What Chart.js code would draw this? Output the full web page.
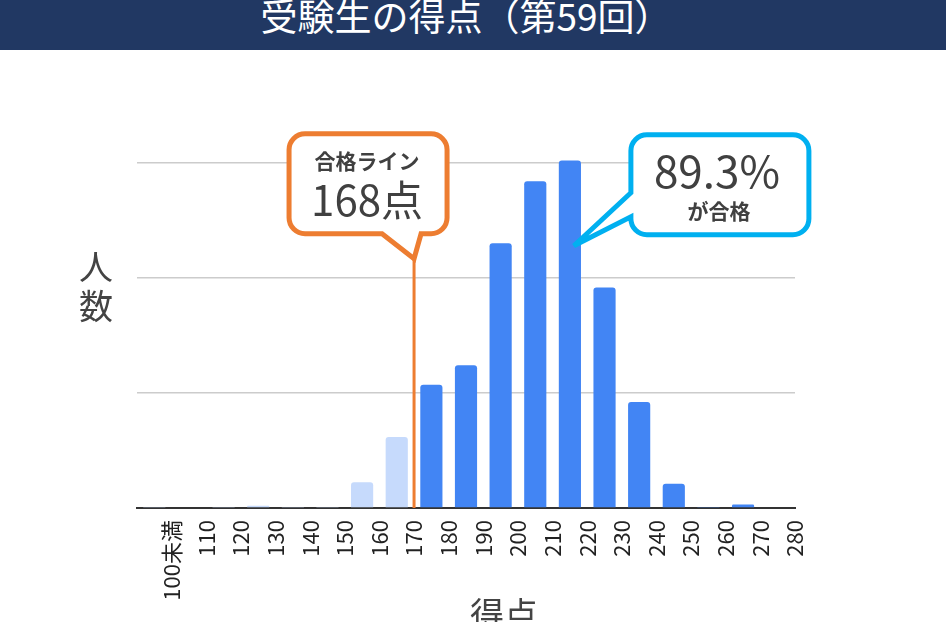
<!DOCTYPE html>
<html lang="ja">
<head>
<meta charset="utf-8">
<title>受験生の得点（第59回）</title>
<script src="https://cdn.jsdelivr.net/npm/chart.js@4.4.0/dist/chart.umd.min.js"></script>
<style>
  html, body { margin: 0; padding: 0; background: #fff; overflow: hidden; }
  body { width: 946px; height: 622px; position: relative; font-family: "Noto Sans CJK JP", "Noto Sans", sans-serif; }
  #header {
    position: absolute; left: 0; top: 0; width: 946px; height: 50px;
    background: #213863; color: #fff; font-size: 37px; line-height: 30px;
    text-align: center; padding-right: 14px; box-sizing: border-box;
  }
  #wrap { position: absolute; left: 0; top: 50px; width: 946px; height: 572px; }
</style>
</head>
<body>
<div id="header">受験生の得点（第59回）</div>
<div id="wrap"><canvas id="scoreChart"></canvas></div>
<script>
// ---- DATA ----
// tick labels sit on the bin edges, one bar per bin
const tickLabels = ['100未満', '110', '120', '130', '140', '150', '160', '170', '180', '190',
                    '200', '210', '220', '230', '240', '250', '260', '270', '280'];
// number of examinees per bin (y ticks are hidden)
const counts = [0.9, 0, 0.9, 2, 0.9, 0.9, 22.4, 61.6, 107, 124,
                230, 284, 302, 191.5, 92, 21, 0.9, 3, 0];
// horizontal grid lines (values, no labels shown)
const yGridValues = [0, 100, 200, 300];
const yMax = 305;

const passLineLabel = '170';      // the pass line is drawn on this tick
const passTitle = '合格ライン';
const passScoreText = '168点';
const passRateText = '89.3%';
const passRateSub = 'が合格';
const yTitleChars = ['人', '数'];
const xTitle = '得点';

const FONT = '"Noto Sans CJK JP", "Noto Sans", sans-serif';
const ORANGE = '#ED7D31';
const CYAN = '#00B0F0';

const passPos = tickLabels.indexOf(passLineLabel) + 1;
const barData = counts.map((v, i) => ({ x: i + 0.5, y: v }));
const barColors = barData.map(d => d.x > passPos ? '#4285F4' : '#C6DAFC');

// rounded box with a pointed tail, tail on the bottom or on the left edge
function drawCallout(ctx, box, tail, color) {
    const { l, t, r, b } = box;
    const rad = 16;
    ctx.save();
    ctx.beginPath();
    ctx.moveTo(l + rad, t);
    ctx.lineTo(r - rad, t);
    ctx.arcTo(r, t, r, t + rad, rad);
    ctx.lineTo(r, b - rad);
    ctx.arcTo(r, b, r - rad, b, rad);
    if (tail.edge === 'bottom') {
        ctx.lineTo(tail.b, b);
        ctx.lineTo(tail.tipX, tail.tipY);
        ctx.lineTo(tail.a, b);
    }
    ctx.lineTo(l + rad, b);
    ctx.arcTo(l, b, l, b - rad, rad);
    if (tail.edge === 'left') {
        ctx.lineTo(l, tail.b);
        ctx.lineTo(tail.tipX, tail.tipY);
        ctx.lineTo(l, tail.a);
    }
    ctx.lineTo(l, t + rad);
    ctx.arcTo(l, t, l + rad, t, rad);
    ctx.closePath();
    ctx.fillStyle = '#fff';
    ctx.fill();
    ctx.lineWidth = 5;
    ctx.lineJoin = 'miter';
    ctx.miterLimit = 4;
    ctx.strokeStyle = color;
    ctx.stroke();
    ctx.restore();
}

function text(ctx, str, x, y, size, weight, color) {
    ctx.save();
    ctx.font = weight + ' ' + size + 'px ' + FONT;
    ctx.fillStyle = color;
    ctx.textAlign = 'center';
    ctx.textBaseline = 'middle';
    ctx.fillText(str, x, y);
    ctx.restore();
}

const annotations = {
    id: 'annotations',
    afterDraw(chart) {
        const ctx = chart.ctx;
        const xs = chart.scales.x, ys = chart.scales.y;
        const area = chart.chartArea;
        const gridTop = ys.getPixelForValue(yGridValues[yGridValues.length - 1]);

        // pass line
        const passX = xs.getPixelForValue(passPos);
        ctx.save();
        ctx.strokeStyle = ORANGE;
        ctx.lineWidth = 3;
        ctx.beginPath();
        ctx.moveTo(passX, gridTop + 96);
        ctx.lineTo(passX, area.bottom);
        ctx.stroke();
        ctx.restore();

        // orange callout
        drawCallout(ctx, { l: passX - 125, t: gridTop - 29, r: passX + 33, b: gridTop + 71 },
            { edge: 'bottom', a: passX - 32, b: passX + 7, tipX: passX, tipY: gridTop + 96 }, ORANGE);
        text(ctx, passTitle, passX - 47, gridTop - 2, 21, 'bold', '#404040');
        text(ctx, passScoreText, passX - 47, gridTop + 37, 42, 'normal', '#404040');

        // cyan callout pointing at the tallest bar
        const peakIdx = counts.indexOf(Math.max(...counts));
        const peakX = xs.getPixelForValue(barData[peakIdx].x);
        drawCallout(ctx, { l: peakX + 61, t: gridTop - 28, r: peakX + 239, b: gridTop + 72 },
            { edge: 'left', a: gridTop + 30, b: gridTop + 54, tipX: peakX + 4, tipY: gridTop + 83 }, CYAN);
        text(ctx, passRateText, peakX + 147, gridTop + 9, 44, 'normal', '#404040');
        text(ctx, passRateSub, peakX + 149, gridTop + 48, 21, 'bold', '#404040');

        // axis titles
        yTitleChars.forEach((c, i) => {
            text(ctx, c, area.left - 41, gridTop + 104 + i * 39, 34, 'normal', '#444');
        });
        text(ctx, xTitle, (area.left + area.right) / 2 + 38, area.bottom + 106, 34, 'normal', '#444');
    }
};

const ctx = document.getElementById('scoreChart').getContext('2d');
new Chart(ctx, {
    type: 'bar',
    data: {
        datasets: [{
            data: barData,
            backgroundColor: barColors,
            borderRadius: 3,
            borderSkipped: 'bottom',
            categoryPercentage: 0.8,
            barPercentage: 0.8
        }]
    },
    options: {
        responsive: true,
        maintainAspectRatio: false,
        animation: false,
        layout: { padding: { left: 137, right: 151, top: 107, bottom: 0 } },
        plugins: {
            legend: { display: false },
            tooltip: { enabled: false }
        },
        scales: {
            x: {
                type: 'linear',
                min: 0,
                max: tickLabels.length,
                offset: false,
                grid: { display: false, drawTicks: false, offset: false },
                border: { display: true, color: '#333', width: 2 },
                ticks: {
                    stepSize: 1,
                    autoSkip: false,
                    maxRotation: 90,
                    minRotation: 90,
                    padding: 12,
                    color: '#222',
                    font: { family: FONT, size: 22 },
                    callback: v => (v >= 1 ? tickLabels[v - 1] : '')
                },
                afterFit: s => { s.height = 114; }
            },
            y: {
                min: 0,
                max: yMax,
                bounds: 'data',
                ticks: { display: false },
                afterBuildTicks: s => { s.ticks = yGridValues.map(v => ({ value: v })); },
                grid: {
                    drawTicks: false,
                    lineWidth: 1.5,
                    color: c => (c.tick && c.tick.value === 0 ? 'rgba(0,0,0,0)' : '#cccccc')
                },
                border: { display: false },
                afterFit: s => { s.width = 0; }
            }
        }
    },
    plugins: [annotations]
});
</script>
</body>
</html>
